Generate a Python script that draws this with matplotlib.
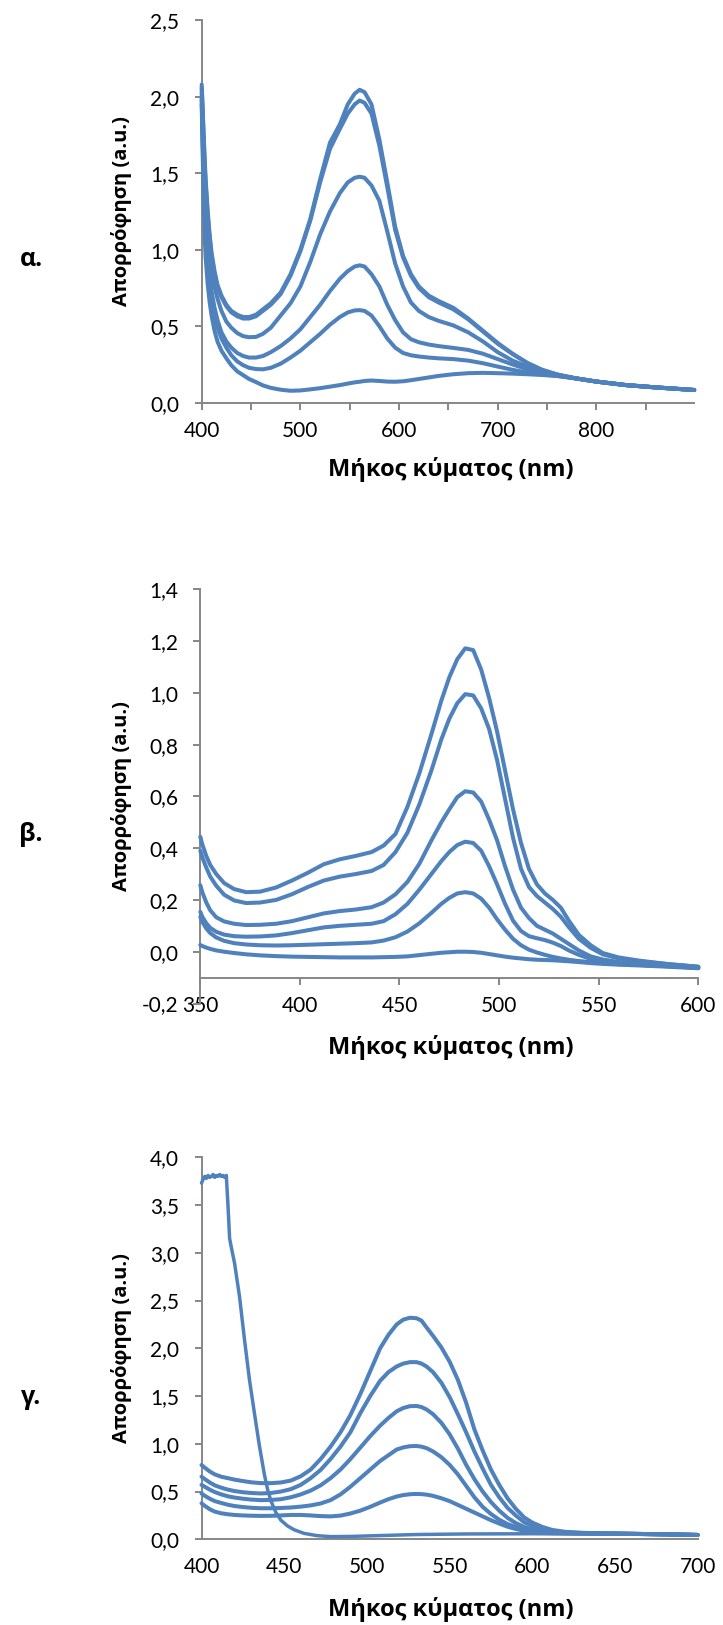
import matplotlib
matplotlib.use("Agg")
import matplotlib.pyplot as plt
from matplotlib.ticker import FixedLocator

# ---------------- data ----------------
# Panel α
alpha_x = [400, 401, 402, 403, 404, 406, 408, 410, 413, 416, 420, 425, 430, 436, 442, 448, 455, 462, 470, 480,
           490, 500, 510, 520, 530, 540, 548, 555, 560, 565, 572, 580, 588, 596, 604, 612, 620, 630, 640, 655,
           670, 685, 700, 715, 730, 745, 760, 780, 800, 830, 860, 899]
alpha_1 = [2.08, 1.92, 1.75, 1.6, 1.46, 1.26, 1.1, 0.98, 0.86, 0.77, 0.7, 0.64, 0.6, 0.575, 0.56, 0.56, 0.575,
           0.61, 0.65, 0.72, 0.84, 1.0, 1.2, 1.46, 1.7, 1.82, 1.95, 2.02, 2.045, 2.03, 1.95, 1.72, 1.44, 1.15,
           0.96, 0.84, 0.76, 0.7, 0.665, 0.62, 0.55, 0.47, 0.39, 0.32, 0.26, 0.215, 0.185, 0.158, 0.138, 0.115,
           0.1, 0.083]
alpha_2 = [2.06, 1.9, 1.72, 1.57, 1.43, 1.23, 1.08, 0.96, 0.84, 0.76, 0.69, 0.63, 0.59, 0.565, 0.55, 0.55, 0.565,
           0.6, 0.64, 0.71, 0.83, 0.99, 1.19, 1.44, 1.66, 1.79, 1.89, 1.95, 1.975, 1.96, 1.89, 1.68, 1.41, 1.13,
           0.95, 0.83, 0.75, 0.69, 0.655, 0.61, 0.545, 0.465, 0.385, 0.318, 0.258, 0.213, 0.184, 0.158, 0.138,
           0.115, 0.1, 0.083]
alpha_3 = [2.03, 1.82, 1.62, 1.45, 1.31, 1.12, 0.98, 0.87, 0.76, 0.68, 0.6, 0.53, 0.49, 0.455, 0.435, 0.428, 0.43,
           0.45, 0.49, 0.57, 0.65, 0.76, 0.92, 1.1, 1.25, 1.37, 1.44, 1.47, 1.477, 1.47, 1.42, 1.32, 1.12, 0.91,
           0.76, 0.655, 0.6, 0.56, 0.535, 0.505, 0.46, 0.4, 0.33, 0.275, 0.235, 0.2, 0.18, 0.158, 0.138, 0.115,
           0.1, 0.083]
alpha_4 = [2.0, 1.75, 1.52, 1.33, 1.18, 0.98, 0.84, 0.73, 0.62, 0.54, 0.46, 0.4, 0.36, 0.325, 0.305, 0.295, 0.295,
           0.305, 0.33, 0.37, 0.42, 0.48, 0.56, 0.64, 0.73, 0.81, 0.86, 0.89, 0.898, 0.89, 0.84, 0.76, 0.64, 0.54,
           0.46, 0.415, 0.395, 0.38, 0.37, 0.358, 0.345, 0.32, 0.285, 0.25, 0.218, 0.195, 0.178, 0.158, 0.138,
           0.115, 0.1, 0.083]
alpha_5 = [1.98, 1.7, 1.45, 1.25, 1.1, 0.9, 0.76, 0.66, 0.56, 0.49, 0.42, 0.36, 0.31, 0.27, 0.245, 0.228, 0.22,
           0.218, 0.228, 0.255, 0.295, 0.34, 0.395, 0.45, 0.51, 0.56, 0.59, 0.603, 0.605, 0.6, 0.57, 0.5, 0.42,
           0.36, 0.325, 0.31, 0.302, 0.295, 0.29, 0.285, 0.275, 0.258, 0.236, 0.215, 0.196, 0.185, 0.175, 0.158,
           0.138, 0.115, 0.1, 0.083]
alpha_6 = [1.95, 1.62, 1.32, 1.1, 0.95, 0.78, 0.66, 0.57, 0.47, 0.4, 0.34, 0.29, 0.245, 0.205, 0.18, 0.155, 0.135,
           0.113, 0.097, 0.085, 0.078, 0.08, 0.087, 0.095, 0.105, 0.115, 0.125, 0.133, 0.137, 0.142, 0.145, 0.142,
           0.138, 0.137, 0.14, 0.147, 0.155, 0.165, 0.175, 0.186, 0.193, 0.195, 0.193, 0.19, 0.186, 0.181, 0.175,
           0.158, 0.138, 0.115, 0.1, 0.083]
alpha_series = [alpha_1, alpha_2, alpha_3, alpha_4, alpha_5, alpha_6]

# Panel β
beta_x = [350, 351, 353, 355, 358, 362, 367, 373, 380, 388, 396, 404, 412, 420, 428, 436, 442, 448, 454, 460,
          466, 471, 475, 479, 483, 487, 491, 495, 499, 503, 507, 511, 515, 519, 523, 527, 531, 535, 540, 546,
          552, 560, 570, 585, 600]
beta_1 = [0.444, 0.415, 0.37, 0.335, 0.3, 0.265, 0.242, 0.23, 0.232, 0.248, 0.275, 0.305, 0.338, 0.357, 0.37,
          0.385, 0.41, 0.455, 0.56, 0.69, 0.84, 0.97, 1.06, 1.13, 1.172, 1.165, 1.09, 0.98, 0.85, 0.7, 0.55, 0.42,
          0.32, 0.26, 0.225, 0.2, 0.17, 0.12, 0.065, 0.025, -0.005, -0.022, -0.034, -0.048, -0.058]
beta_2 = [0.39, 0.365, 0.325, 0.29, 0.255, 0.22, 0.198, 0.188, 0.19, 0.2, 0.222, 0.25, 0.275, 0.29, 0.3, 0.312,
          0.335, 0.385, 0.46, 0.57, 0.7, 0.82, 0.9, 0.96, 0.995, 0.99, 0.94, 0.86, 0.74, 0.59, 0.44, 0.32, 0.25,
          0.215, 0.19, 0.165, 0.135, 0.095, 0.05, 0.015, -0.01, -0.026, -0.037, -0.048, -0.058]
beta_3 = [0.257, 0.23, 0.19, 0.16, 0.133, 0.117, 0.108, 0.103, 0.104, 0.108, 0.118, 0.133, 0.148, 0.157, 0.163,
          0.172, 0.19, 0.222, 0.27, 0.34, 0.43, 0.5, 0.55, 0.597, 0.62, 0.615, 0.58, 0.51, 0.43, 0.33, 0.24, 0.17,
          0.13, 0.1, 0.085, 0.07, 0.05, 0.03, 0.005, -0.018, -0.03, -0.04, -0.046, -0.053, -0.062]
beta_4 = [0.154, 0.135, 0.11, 0.092, 0.077, 0.066, 0.06, 0.058, 0.059, 0.063, 0.072, 0.083, 0.094, 0.1, 0.104,
          0.108, 0.118, 0.145, 0.185, 0.24, 0.3, 0.35, 0.385, 0.412, 0.425, 0.42, 0.39, 0.33, 0.26, 0.185, 0.12,
          0.08, 0.06, 0.052, 0.045, 0.035, 0.022, 0.005, -0.012, -0.028, -0.038, -0.045, -0.05, -0.056, -0.062]
beta_5 = [0.135, 0.115, 0.09, 0.072, 0.055, 0.042, 0.033, 0.028, 0.025, 0.024, 0.025, 0.027, 0.029, 0.031, 0.033,
          0.036, 0.043, 0.056, 0.078, 0.11, 0.15, 0.185, 0.208, 0.225, 0.23, 0.225, 0.205, 0.17, 0.125, 0.085,
          0.05, 0.025, 0.008, -0.003, -0.012, -0.02, -0.026, -0.031, -0.036, -0.04, -0.044, -0.048, -0.051,
          -0.056, -0.062]
beta_6 = [0.026, 0.022, 0.016, 0.011, 0.005, 0.0, -0.005, -0.01, -0.014, -0.017, -0.019, -0.02, -0.021, -0.022,
          -0.022, -0.022, -0.021, -0.02, -0.018, -0.013, -0.008, -0.004, -0.002, 0.0, 0.0, -0.001, -0.004, -0.009,
          -0.014, -0.019, -0.023, -0.026, -0.029, -0.031, -0.032, -0.033, -0.035, -0.037, -0.04, -0.044, -0.047,
          -0.05, -0.053, -0.058, -0.064]
beta_series = [beta_1, beta_2, beta_3, beta_4, beta_5, beta_6]

# Panel γ
gamma_x0 = [400, 401, 402, 403, 404, 405, 406, 407, 408, 409, 410, 411, 412, 413, 414, 415, 416, 417, 418, 420,
            423, 426, 429, 432, 435, 438, 440, 442, 445, 448, 452, 456, 462, 470, 478, 490, 510, 530, 560, 600,
            650, 700]
gamma_0 = [3.73, 3.77, 3.80, 3.78, 3.81, 3.79, 3.80, 3.82, 3.79, 3.81, 3.80, 3.82, 3.80, 3.81, 3.79, 3.81, 3.50,
           3.15, 3.06, 2.89, 2.54, 2.09, 1.67, 1.32, 0.98, 0.68, 0.52, 0.40, 0.28, 0.20, 0.14, 0.10, 0.062, 0.038,
           0.028, 0.03, 0.04, 0.05, 0.056, 0.058, 0.055, 0.05]
gamma_x = [400, 402, 405, 408, 412, 416, 420, 425, 430, 436, 442, 448, 454, 460, 466, 472, 478, 484, 490, 496,
           502, 508, 513, 518, 522, 526, 530, 533, 536, 540, 545, 550, 555, 560, 565, 570, 575, 580, 585, 590,
           595, 600, 606, 612, 620, 630, 645, 660, 680, 700]
gamma_1 = [0.778, 0.75, 0.71, 0.68, 0.655, 0.64, 0.625, 0.61, 0.597, 0.588, 0.588, 0.595, 0.615, 0.66, 0.73,
           0.84, 0.97, 1.12, 1.3, 1.52, 1.76, 2.0, 2.14, 2.25, 2.3, 2.32, 2.315, 2.29, 2.22, 2.13, 2.01, 1.86, 1.67,
           1.43, 1.15, 0.93, 0.73, 0.57, 0.43, 0.32, 0.23, 0.175, 0.13, 0.098, 0.078, 0.068, 0.062, 0.058, 0.052,
           0.045]
gamma_2 = [0.656, 0.63, 0.595, 0.565, 0.54, 0.52, 0.505, 0.493, 0.485, 0.48, 0.485, 0.5, 0.525, 0.57, 0.64, 0.726,
           0.84, 0.97, 1.12, 1.32, 1.5, 1.66, 1.75, 1.81, 1.84, 1.855, 1.855, 1.84, 1.81, 1.75, 1.64, 1.49, 1.31,
           1.12, 0.92, 0.74, 0.57, 0.44, 0.33, 0.25, 0.18, 0.14, 0.105, 0.085, 0.073, 0.066, 0.061, 0.057, 0.052,
           0.045]
gamma_3 = [0.57, 0.55, 0.52, 0.495, 0.47, 0.45, 0.437, 0.425, 0.416, 0.41, 0.412, 0.42, 0.44, 0.47, 0.51, 0.565,
           0.64, 0.73, 0.84, 0.96, 1.08, 1.19, 1.27, 1.34, 1.375, 1.394, 1.396, 1.385, 1.36, 1.31, 1.22, 1.1, 0.95,
           0.78, 0.63, 0.5, 0.39, 0.3, 0.225, 0.17, 0.13, 0.103, 0.083, 0.073, 0.067, 0.063, 0.06, 0.057, 0.052,
           0.045]
gamma_4 = [0.48, 0.455, 0.425, 0.4, 0.38, 0.362, 0.348, 0.338, 0.33, 0.325, 0.325, 0.328, 0.333, 0.342, 0.355,
           0.375, 0.41, 0.47, 0.55, 0.64, 0.73, 0.82, 0.88, 0.94, 0.962, 0.975, 0.977, 0.97, 0.955, 0.92, 0.86,
           0.78, 0.68, 0.56, 0.44, 0.34, 0.265, 0.205, 0.16, 0.128, 0.102, 0.087, 0.075, 0.069, 0.065, 0.062,
           0.06, 0.057, 0.052, 0.045]
gamma_5 = [0.377, 0.35, 0.315, 0.29, 0.272, 0.262, 0.255, 0.25, 0.247, 0.245, 0.246, 0.25, 0.255, 0.255, 0.25,
           0.243, 0.24, 0.248, 0.27, 0.3, 0.34, 0.385, 0.42, 0.448, 0.463, 0.472, 0.475, 0.473, 0.468, 0.455, 0.43,
           0.4, 0.36, 0.32, 0.28, 0.24, 0.2, 0.165, 0.132, 0.108, 0.09, 0.078, 0.068, 0.064, 0.062, 0.06, 0.058,
           0.056, 0.052, 0.045]
gamma_series = [gamma_1, gamma_2, gamma_3, gamma_4, gamma_5]

alpha_yticks = [0.0, 0.5, 1.0, 1.5, 2.0, 2.5]
alpha_ylabels = ["0,0", "0,5", "1,0", "1,5", "2,0", "2,5"]
alpha_xticks = [400, 500, 600, 700, 800]
alpha_xminor = [450, 550, 650, 750, 850]

beta_yticks = [-0.2, 0.0, 0.2, 0.4, 0.6, 0.8, 1.0, 1.2, 1.4]
beta_ylabels = ["-0,2", "0,0", "0,2", "0,4", "0,6", "0,8", "1,0", "1,2", "1,4"]
beta_xticks = [350, 400, 450, 500, 550, 600]

gamma_yticks = [0.0, 0.5, 1.0, 1.5, 2.0, 2.5, 3.0, 3.5, 4.0]
gamma_ylabels = ["0,0", "0,5", "1,0", "1,5", "2,0", "2,5", "3,0", "3,5", "4,0"]
gamma_xticks = [400, 450, 500, 550, 600, 650, 700]
gamma_xtickmarks = [400, 500, 600, 700]

panel_letters = ["α.", "β.", "γ."]
ylabel_text = "Απορρόφηση (a.u.)"
xlabel_text = "Μήκος κύματος (nm)"

# ---------------- style ----------------
W, H = 723, 1625
DPI = 100
LINE_COLOR = "#4F81BD"
AXIS_COLOR = "#868686"
TICK_FONT = ["Lato", "Open Sans", "DejaVu Sans"]
LABEL_FONT = ["Open Sans", "DejaVu Sans"]
TICK_SIZE = 15
XLABEL_SIZE = 17
YLABEL_SIZE = 14.5
LETTER_SIZE = 18
TICK_LEN = 5.0
LW = 2.9

plt.rcParams['font.family'] = TICK_FONT

fig = plt.figure(figsize=(W / DPI, H / DPI), dpi=DPI)
fig.patch.set_facecolor("white")


def px_axes(left, top, right, bottom):
    return fig.add_axes([left / W, 1 - bottom / H, (right - left) / W, (bottom - top) / H])


def style_axes(ax):
    for s in ("top", "right"):
        ax.spines[s].set_visible(False)
    for s in ("left", "bottom"):
        ax.spines[s].set_color(AXIS_COLOR)
        ax.spines[s].set_linewidth(1.4)
    ax.tick_params(axis="both", which="both", direction="out", color=AXIS_COLOR, width=1.4,
                   length=TICK_LEN, labelsize=TICK_SIZE, labelcolor="black")
    ax.tick_params(axis="y", pad=11)
    ax.tick_params(axis="x", which="both", pad=8)
    ax.set_facecolor("none")


def fig_text(x, y, s, **kw):
    fig.text(x / W, 1 - y / H, s, **kw)


line_kw = dict(color=LINE_COLOR, lw=LW, clip_on=False, zorder=3,
               solid_joinstyle="round", solid_capstyle="round")

# ---- α ----
ax1 = px_axes(201.7, 20.2, 694.2, 402.7)
for ys in alpha_series:
    ax1.plot(alpha_x, ys, **line_kw)
ax1.set_xlim(400, 899)
ax1.set_ylim(0, 2.5)
ax1.set_yticks(alpha_yticks)
ax1.set_yticklabels(alpha_ylabels)
ax1.set_xticks(alpha_xticks)
ax1.set_xticklabels([str(v) for v in alpha_xticks])
ax1.xaxis.set_minor_locator(FixedLocator(alpha_xminor))
style_axes(ax1)

# ---- β ----
ax2 = px_axes(200.3, 589.3, 698.3, 1003.5)
for ys in beta_series:
    ax2.plot(beta_x, ys, **line_kw)
ax2.set_xlim(350, 600)
ax2.set_ylim(-0.2, 1.4)
ax2.set_yticks(beta_yticks)
ax2.set_yticklabels(beta_ylabels)
ax2.set_xticks(beta_xticks)
ax2.set_xticklabels([str(v) for v in beta_xticks])
ax2.spines["bottom"].set_position(("data", -0.1))
style_axes(ax2)

# ---- γ ----
ax3 = px_axes(201.5, 1157.3, 697.7, 1539.3)
ax3.plot(gamma_x0, gamma_0, **dict(line_kw, lw=2.5))
for ys in gamma_series:
    ax3.plot(gamma_x, ys, **line_kw)
ax3.set_xlim(400, 700)
ax3.set_ylim(0, 4.0)
ax3.set_yticks(gamma_yticks)
ax3.set_yticklabels(gamma_ylabels)
ax3.set_xticks(gamma_xticks)
ax3.set_xticklabels([str(v) for v in gamma_xticks])
ax3.xaxis.set_minor_locator(FixedLocator(gamma_xtickmarks))
style_axes(ax3)
ax3.tick_params(axis="x", which="major", length=0, pad=8 + TICK_LEN)

# ---- labels ----
bold_kw = dict(fontweight="bold", family=LABEL_FONT, color="black")
for (ycen, xlab_y) in [(211.5, 470), (796.4, 1047), (1348.3, 1610)]:
    fig_text(122, ycen, ylabel_text, rotation=90, ha="center", va="center",
             fontsize=YLABEL_SIZE, **bold_kw)
    fig_text(451, xlab_y, xlabel_text, ha="center", va="center",
             fontsize=XLABEL_SIZE, **bold_kw)

fig_text(31, 259, panel_letters[0], ha="center", va="center", fontsize=LETTER_SIZE, **bold_kw)
fig_text(31, 834, panel_letters[1], ha="center", va="center", fontsize=LETTER_SIZE, **bold_kw)
fig_text(31, 1397, panel_letters[2], ha="center", va="center", fontsize=LETTER_SIZE, **bold_kw)

fig.savefig("out.png", dpi=DPI, facecolor="white")
